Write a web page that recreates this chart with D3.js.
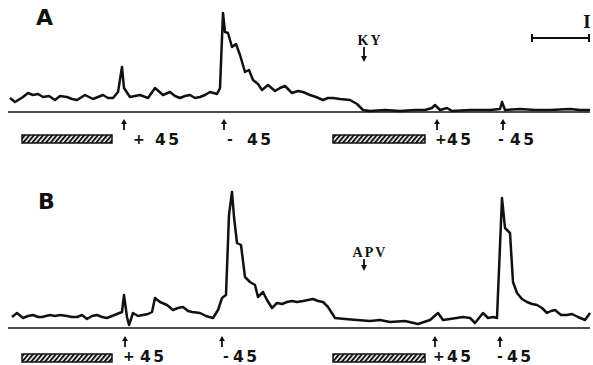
<!DOCTYPE html>
<html>
<head>
<meta charset="utf-8">
<script src="https://cdn.jsdelivr.net/npm/d3@7"></script>
<style>
 body{margin:0;background:#fff}
 svg{display:block}
 text{fill:#111}
</style>
</head>
<body>
<svg id="chart" width="593" height="365"></svg>
<script>
// recorded responses (time in arbitrary units, amplitude above baseline)
const timeA=[0,5,13,18,23,28,33,39,45,50,57,62,67,75,83,88,93,98,103,108,112,114,120,125,130,138,145,153,160,165,170,175,180,185,190,195,200,207,210,213,215,218,222,226,230,235,239,243,248,252,258,265,270,275,282,288,293,300,306,313,318,323,330,340,347,353,360,375,390,405,415,422,425,430,437,442,460,480,490,492,495,510,525,540,560,570,580];
const traceA=[14,10,15,19,17,18,15,16,12,16,15,13,12,17,13,15,17,14,14,20,45,24,15,16,17,14,24,17,20,16,14,16,17,14,15,17,20,18,24,99,80,79,65,68,57,40,42,32,28,22,27,21,24,26,19,21,20,17,15,12,14,14,13,12,8,2,1,2,1,2,2,4,7,2,4,1,2,2,3,10,2,3,2,2,3,2,2];
const timeB=[2,7,13,18,23,28,32,40,45,50,57,62,67,72,77,82,87,92,97,102,107,112,114,117,119,123,128,133,138,142,145,150,157,163,168,173,178,182,190,196,203,208,212,216,219,222,224,227,231,235,240,245,248,253,257,262,267,272,277,282,287,293,298,303,308,313,318,325,335,347,360,370,380,395,408,420,428,433,440,453,460,465,473,478,483,487,492,495,500,503,507,512,517,522,527,532,537,541,545,551,557,562,568,575,580];
const traceB=[11,15,10,12,13,11,11,13,12,13,12,11,11,13,9,12,13,11,10,12,14,16,33,11,3,15,12,13,14,16,30,26,23,18,20,21,17,16,15,12,10,18,30,33,113,136,111,85,83,51,46,43,31,36,28,20,25,24,26,27,26,27,28,29,27,26,21,10,9,8,7,8,6,7,4,8,15,8,9,11,10,5,15,10,11,10,130,100,95,46,35,29,26,24,23,20,15,17,18,13,13,14,11,8,15];
const stimulus=["+","-","+","-"];
const angle=["45","45","45","45"];
const stimTimeA=[114,214,427,493];
const stimTimeB=[115,212,425,490];
const pulses=[[12,102],[323,415]];
const drugTime=354;
const drugs=["KY","APV"];
const panels=["A","B"];

const svg=d3.select("#chart");
const x=d3.scaleLinear().domain([0,580]).range([10,590]);
const yA=d3.scaleLinear().domain([0,100]).range([112,12]);
const yB=d3.scaleLinear().domain([0,100]).range([328,228]);

const defs=svg.append("defs");
const hatch=defs.append("pattern").attr("id","hatch").attr("patternUnits","userSpaceOnUse")
 .attr("width",3.5).attr("height",4).attr("patternTransform","rotate(40)");
hatch.append("rect").attr("width",3.5).attr("height",4).attr("fill","#fff");
hatch.append("rect").attr("width",2).attr("height",4).attr("fill","#111");

// label offsets (sign, number) relative to stimulus arrow
const layout=[
 {y:yA,time:timeA,trace:traceA,stim:stimTimeA,arrowTop:119,textY:145,barY:135,barH:8,
  sign:[9,3,-2,-5],num:[31,23,10,7],label:[36,25],drugY:45,drugArrow:[47,62]},
 {y:yB,time:timeB,trace:traceB,stim:stimTimeB,arrowTop:336,textY:362,barY:354,barH:8,
  sign:[-2,1,-2,-3],num:[15,11,12,7],label:[38,209],drugY:257,drugArrow:[259,271]}
];

layout.forEach((p,i)=>{
 const g=svg.append("g");
 // baseline
 g.append("line").attr("x1",8).attr("x2",590).attr("y1",p.y(0)).attr("y2",p.y(0))
  .attr("stroke","#111").attr("stroke-width",1.6);
 // trace
 g.append("path").datum(d3.zip(p.time,p.trace))
  .attr("d",d3.line().x(d=>x(d[0])).y(d=>p.y(d[1])))
  .attr("fill","none").attr("stroke","#111").attr("stroke-width",2.5).attr("stroke-linejoin","round");
 // panel letter
 g.append("text").attr("x",p.label[0]).attr("y",p.label[1]).text(panels[i])
  .attr("font-family","DejaVu Sans").attr("font-weight","bold").attr("font-size",22);
 // hatched pulses
 g.selectAll("rect.pulse").data(pulses).join("rect").attr("class","pulse")
  .attr("x",d=>x(d[0])).attr("width",d=>x(d[1])-x(d[0]))
  .attr("y",p.barY).attr("height",p.barH)
  .attr("fill","url(#hatch)").attr("stroke","#111").attr("stroke-width",1.5);
 // stimulus arrows and labels
 p.stim.forEach((t,j)=>{
  const ax=x(t);
  g.append("line").attr("x1",ax).attr("x2",ax).attr("y1",p.arrowTop+3).attr("y2",p.arrowTop+11)
   .attr("stroke","#111").attr("stroke-width",1.8);
  g.append("path").attr("d",`M${ax-3},${p.arrowTop+5}L${ax},${p.arrowTop}L${ax+3},${p.arrowTop+5}Z`)
   .attr("fill","#111");
  g.append("text").attr("x",ax+p.sign[j]).attr("y",p.textY-1).text(stimulus[j])
   .attr("font-family","DejaVu Sans").attr("font-weight","bold").attr("font-size",14);
  g.append("text").attr("x",ax+p.num[j]).attr("y",p.textY).text(angle[j])
   .attr("font-family","DejaVu Sans").attr("font-weight","bold").attr("font-size",15.5)
   .attr("letter-spacing",2.5);
 });
 // drug application
 const dx=x(drugTime);
 g.append("text").attr("x",dx+6).attr("y",p.drugY).attr("text-anchor","middle").text(drugs[i])
  .attr("font-family","Liberation Serif").attr("font-weight","bold").attr("font-size",14)
  .attr("letter-spacing",2);
 g.append("line").attr("x1",dx).attr("x2",dx).attr("y1",p.drugArrow[0]).attr("y2",p.drugArrow[1]-3)
  .attr("stroke","#111").attr("stroke-width",1.8);
 g.append("path").attr("d",`M${dx-3},${p.drugArrow[1]-6}L${dx},${p.drugArrow[1]}L${dx+3},${p.drugArrow[1]-6}Z`)
  .attr("fill","#111");
});

// scale bars
svg.append("line").attr("x1",532).attr("x2",589).attr("y1",38).attr("y2",38).attr("stroke","#111").attr("stroke-width",2);
[532,589].forEach(v=>svg.append("line").attr("x1",v).attr("x2",v).attr("y1",34).attr("y2",42).attr("stroke","#111").attr("stroke-width",2));
svg.append("text").attr("x",587).attr("y",28).attr("text-anchor","middle").text("I")
 .attr("font-family","Liberation Serif").attr("font-weight","bold").attr("font-size",19);
</script>
</body>
</html>
